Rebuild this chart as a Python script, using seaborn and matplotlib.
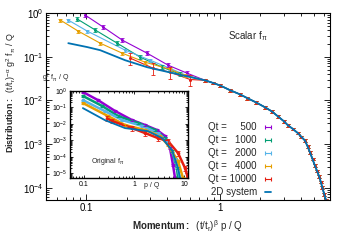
import pandas as pd
import matplotlib
matplotlib.use("Agg")
import matplotlib.pyplot as plt
import seaborn as sns
from matplotlib.lines import Line2D
from matplotlib.ticker import LogLocator, NullFormatter, FixedLocator, FixedFormatter

# Series labels and gnuplot-like colours
qt_labels = ["500", "1000", "2000", "4000", "10000"]
colors = ["#9400d3", "#009e73", "#56b4e9", "#e69f00", "#e51e10"]
color_2d = "#0072b2"
rel_err = [0.10, 0.10, 0.08, 0.08, 0.30]
tail_err = 0.07

# === Main panel (rescaled) ===
# common tail where all curves collapse
tail_p = [0.77, 0.88, 1.0, 1.19, 1.4, 1.6, 1.85, 2.17, 2.45, 2.7, 3.0, 3.2, 3.5,
          3.8, 4.05, 4.3, 4.5, 4.7, 4.9, 5.1, 5.3, 5.5, 5.65, 5.8, 6.0, 6.2]
tail_f = [0.0288, 0.0252, 0.0219, 0.0170, 0.0138, 0.0112, 0.0090, 0.0069,
          0.0055, 0.0043, 0.0033, 0.0027, 0.0022, 0.00178, 0.00145, 0.0012,
          0.00088, 0.00063, 0.00045, 0.00032, 0.00024, 0.000178, 0.000135,
          0.0001, 0.00007, 0.00005]

p_500 = [0.098, 0.134, 0.186, 0.285, 0.409, 0.567]
f_500 = [0.90, 0.476, 0.239, 0.120, 0.0638, 0.0418]
p_1000 = [0.0857, 0.117, 0.170, 0.253, 0.369, 0.50]
f_1000 = [0.728, 0.407, 0.204, 0.0975, 0.0574, 0.040]
p_2000 = [0.0734, 0.1017, 0.1954, 0.30, 0.42, 0.55]
f_2000 = [0.690, 0.386, 0.141, 0.083, 0.0544, 0.038]
p_4000 = [0.064, 0.087, 0.127, 0.186, 0.275, 0.42, 0.55]
f_4000 = [0.690, 0.386, 0.204, 0.120, 0.0748, 0.0516, 0.037]
p_10000 = [0.213, 0.316, 0.424, 0.597]
f_10000 = [0.0924, 0.0545, 0.044, 0.030]
p_2d = [0.0734, 0.1017, 0.127, 0.195, 0.285, 0.6]
f_2d = [0.204, 0.166, 0.141, 0.083, 0.0574, 0.034]

# === Inset (original f) ===
ip_500 = [0.095, 0.19, 0.42, 0.91, 1.66, 2.88, 4.17, 5.25, 6.03, 6.61]
if_500 = [0.87, 0.28, 0.060, 0.017, 0.0085, 0.0042, 0.0018, 3.3e-4, 3.1e-5, 5e-6]
ip_1000 = [0.095, 0.23, 0.48, 1.2, 2.63, 4.17, 5.75, 7.24, 7.59]
if_1000 = [0.50, 0.123, 0.030, 0.0112, 0.0042, 0.00135, 2.2e-4, 2.0e-5, 5e-6]
ip_2000 = [0.095, 0.26, 0.58, 1.45, 3.02, 4.57, 6.61, 8.32]
if_2000 = [0.28, 0.060, 0.017, 0.0074, 0.00275, 8.9e-4, 8.1e-5, 5e-6]
ip_4000 = [0.095, 0.30, 0.66, 1.66, 3.31, 4.79, 7.59, 9.55]
if_4000 = [0.186, 0.030, 0.0085, 0.0042, 0.0018, 5.1e-4, 5.4e-5, 5e-6]
ip_10000 = [0.29, 0.36, 0.91, 1.66, 3.02, 4.79, 7.59, 10.5, 12.0]
if_10000 = [0.022, 0.015, 0.0055, 0.00275, 0.00135, 8.9e-4, 1.66e-4, 2.0e-5, 5e-6]
ip_2d = [0.095, 0.26, 0.66, 1.9, 3.63, 5.75, 7.59, 8.32]
if_2d = [0.091, 0.017, 0.0055, 0.0036, 0.00135, 2.5e-4, 2.0e-5, 5e-6]

main_p = [p_500, p_1000, p_2000, p_4000, p_10000]
main_f = [f_500, f_1000, f_2000, f_4000, f_10000]
ins_p = [ip_500, ip_1000, ip_2000, ip_4000, ip_10000]
ins_f = [if_500, if_1000, if_2000, if_4000, if_10000]


def long_table(ps_list, fs_list, tail=False):
    rows = []
    for lab, ps, fs, e in zip(qt_labels, ps_list, fs_list, rel_err):
        for p, f in zip(ps, fs):
            rows.append({"Qt": lab, "p": p, "f": f, "err": f * e})
        if tail:
            for p, f in zip(tail_p, tail_f):
                rows.append({"Qt": lab, "p": p, "f": f, "err": f * tail_err})
    return pd.DataFrame(rows)


sns.set_style("ticks")
plt.rcParams["font.family"] = ["Liberation Sans", "DejaVu Sans"]
plt.rcParams["mathtext.fontset"] = "custom"
plt.rcParams["mathtext.rm"] = "Liberation Sans"
plt.rcParams["mathtext.it"] = "Liberation Sans"
plt.rcParams["mathtext.bf"] = "Liberation Sans:bold"

fig = plt.figure(figsize=(3.5, 2.45), dpi=100)
ax = fig.add_axes([0.1314, 0.1837, 0.811, 0.763])


def style_axes(a, size, lw, major, minor, xticks, xlabels):
    a.set_xscale("log")
    a.set_yscale("log")
    a.tick_params(which="both", direction="in", top=True, right=True,
                  width=0.6, colors="black", labelsize=size, pad=2)
    a.tick_params(which="major", length=major)
    a.tick_params(which="minor", length=minor)
    for s in a.spines.values():
        s.set_linewidth(lw)
        s.set_color("black")
    a.yaxis.set_minor_locator(LogLocator(base=10, subs=range(2, 10), numticks=20))
    a.yaxis.set_minor_formatter(NullFormatter())
    a.xaxis.set_major_locator(FixedLocator(xticks))
    a.xaxis.set_major_formatter(FixedFormatter(xlabels))
    a.xaxis.set_minor_formatter(NullFormatter())


style_axes(ax, 7, 0.8, 4, 2, [0.1, 1], ["0.1", "1"])

# main curves
df_main = long_table(main_p, main_f, tail=True)
sns.lineplot(data=df_main, x="p", y="f", hue="Qt", hue_order=qt_labels,
             palette=colors, marker="o", markersize=2.2, markeredgewidth=0,
             lw=0.8, legend=False, errorbar=None, ax=ax)
for lab, c in zip(qt_labels, colors):
    sub = df_main[df_main["Qt"] == lab]
    ax.errorbar(sub["p"], sub["f"], yerr=sub["err"], fmt="none",
                ecolor=c, elinewidth=0.6, capsize=1.2, capthick=0.6)
df_2d = pd.DataFrame({"p": p_2d + tail_p, "f": f_2d + tail_f})
sns.lineplot(data=df_2d, x="p", y="f", color=color_2d, lw=1.3,
             errorbar=None, ax=ax)

ax.set_xlim(0.05, 6.6)
ax.set_ylim(5.2e-5, 1.0)
ax.set_xlabel(r"$\mathbf{Momentum:}$  $(\mathrm{t/t_r})^{\beta}$ p / Q", fontsize=7)
ax.set_ylabel(r"$\mathbf{Distribution:}$  $(\mathrm{t/t_r})^{-\alpha}$ g$^2$ f$_\pi$ / Q",
              fontsize=6.4)
ax.xaxis.set_label_coords(0.5, -0.095)
ax.yaxis.set_label_coords(-0.1, 0.575)
ax.text(0.71, 0.877, r"Scalar f$_\pi$", transform=ax.transAxes,
        ha="center", va="center", fontsize=7)

handles = [Line2D([], [], color=c, lw=0.8, marker="|", markersize=3.5,
                  markeredgewidth=0.8) for c in colors]
handles.append(Line2D([], [], color=color_2d, lw=1.3))
leg_labels = ["Qt = " + "\u2007" * (5 - len(q)) + q for q in qt_labels] + ["2D system"]
ax.legend(handles, leg_labels, loc="lower right", bbox_to_anchor=(0.815, 0.0),
          frameon=False, markerfirst=False, fontsize=7, handlelength=1.3,
          handletextpad=0.5, labelspacing=0.3, numpoints=2,
          borderaxespad=0.1, borderpad=0.2)

# inset
axi = fig.add_axes([0.2, 0.2735, 0.337, 0.355])
style_axes(axi, 5, 1.0, 2.5, 1.3, [0.1, 1, 10], ["0.1", "1", "10"])
df_ins = long_table(ins_p, ins_f)
sns.lineplot(data=df_ins, x="p", y="f", hue="Qt", hue_order=qt_labels,
             palette=colors, marker="o", markersize=2.6, markeredgewidth=0,
             lw=1.8, legend=False, errorbar=None, ax=axi)
for lab, c in zip(qt_labels, colors):
    sub = df_ins[df_ins["Qt"] == lab]
    axi.errorbar(sub["p"], sub["f"], yerr=sub["err"], fmt="none",
                 ecolor=c, elinewidth=0.6, capsize=1.2, capthick=0.6)
sns.lineplot(x=ip_2d, y=if_2d, color=color_2d, lw=1.3, errorbar=None, ax=axi)
axi.set_xlim(0.0525, 12.0)
axi.set_ylim(5e-6, 1.0)
axi.set_xlabel("p / Q", fontsize=5)
axi.xaxis.set_label_coords(0.69, -0.045)
axi.xaxis.label.set_va("top")
axi.set_ylabel("")
axi.text(-0.24, 1.15, r"g$^2$ f$_\pi$ / Q", transform=axi.transAxes,
         ha="left", va="center", fontsize=5)
axi.text(0.32, 0.195, r"Original f$_\pi$", transform=axi.transAxes,
         ha="center", va="center", fontsize=5)

fig.savefig("out.png", dpi=100)
